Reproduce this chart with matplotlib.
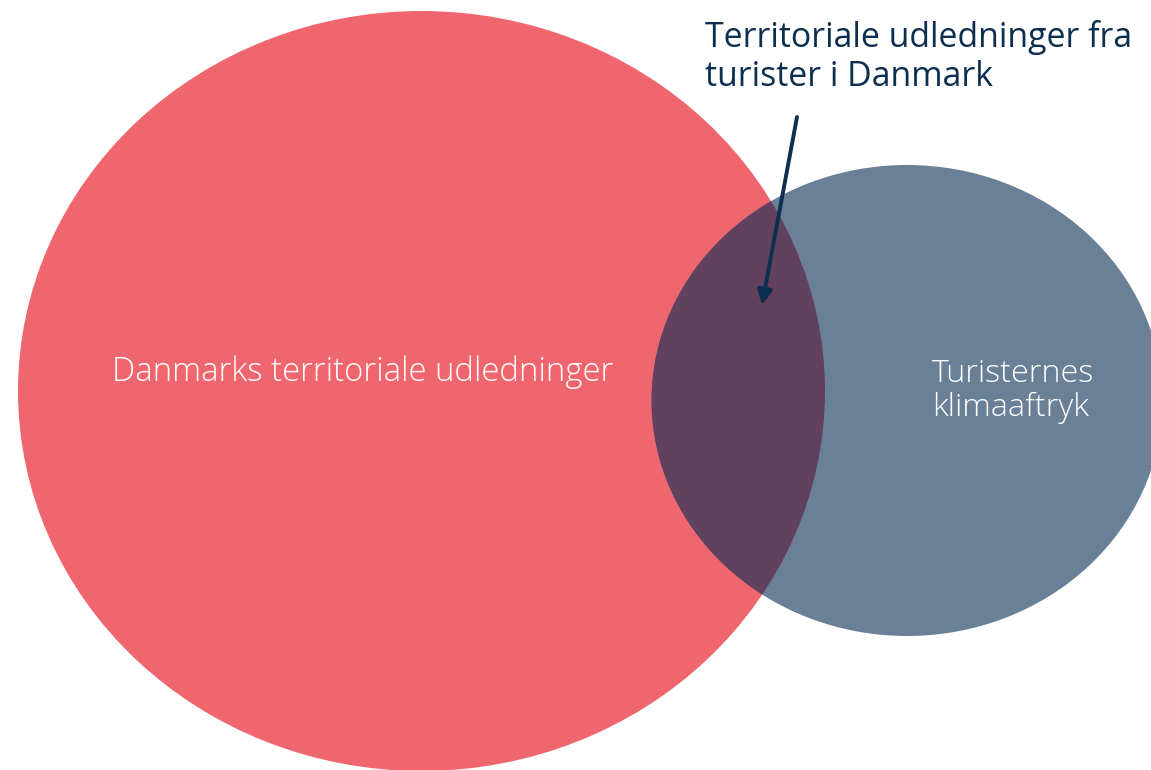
import matplotlib
matplotlib.use("Agg")
import matplotlib.pyplot as plt
from matplotlib.patches import Ellipse

# Data / labels
set_labels = ["Danmarks territoriale udledninger", "Turisternes\nklimaaftryk"]
overlap_label = "Territoriale udledninger fra\nturister i Danmark"

# Layout (pixel coordinates of the canvas)
W, H = 1151, 770
red_geom = dict(xy=(421.5, 391), width=807, height=760)
blue_geom = dict(xy=(907, 400.5), width=511, height=471)
red_col = "#f0666f"
blue_col = "#6a8097"
overlap_col = "#61415e"
navy = "#0c2e4f"

fig = plt.figure(figsize=(W / 100, H / 100), dpi=100)
ax = fig.add_axes([0, 0, 1, 1])
ax.set_xlim(0, W)
ax.set_ylim(H, 0)
ax.axis("off")

red = Ellipse(**red_geom, facecolor=red_col, edgecolor="none", zorder=1)
blue = Ellipse(**blue_geom, facecolor=blue_col, edgecolor="none", zorder=2)
ax.add_patch(red)
ax.add_patch(blue)
inter = Ellipse(**blue_geom, facecolor=overlap_col, edgecolor="none", zorder=3)
ax.add_patch(inter)
inter.set_clip_path(red)

font = "Open Sans"
ax.text(112, 372, set_labels[0], color="white", fontsize=23.7, family=font,
        fontweight="light", ha="left", va="center", zorder=5)
ax.text(932, 391, set_labels[1], color="white", fontsize=23.3, family=font,
        fontweight="light", ha="left", va="center", linespacing=1.12, zorder=5)
ax.text(705, 57, overlap_label, color=navy, fontsize=24.4, family=font,
        fontweight="normal", ha="left", va="center", linespacing=1.16, zorder=5)

ax.annotate("", xy=(762, 305), xytext=(797, 117),
            arrowprops=dict(arrowstyle="-|>", color=navy, lw=2.8,
                            mutation_scale=22, shrinkA=0, shrinkB=0),
            zorder=6)

fig.savefig("out.png", dpi=100)
